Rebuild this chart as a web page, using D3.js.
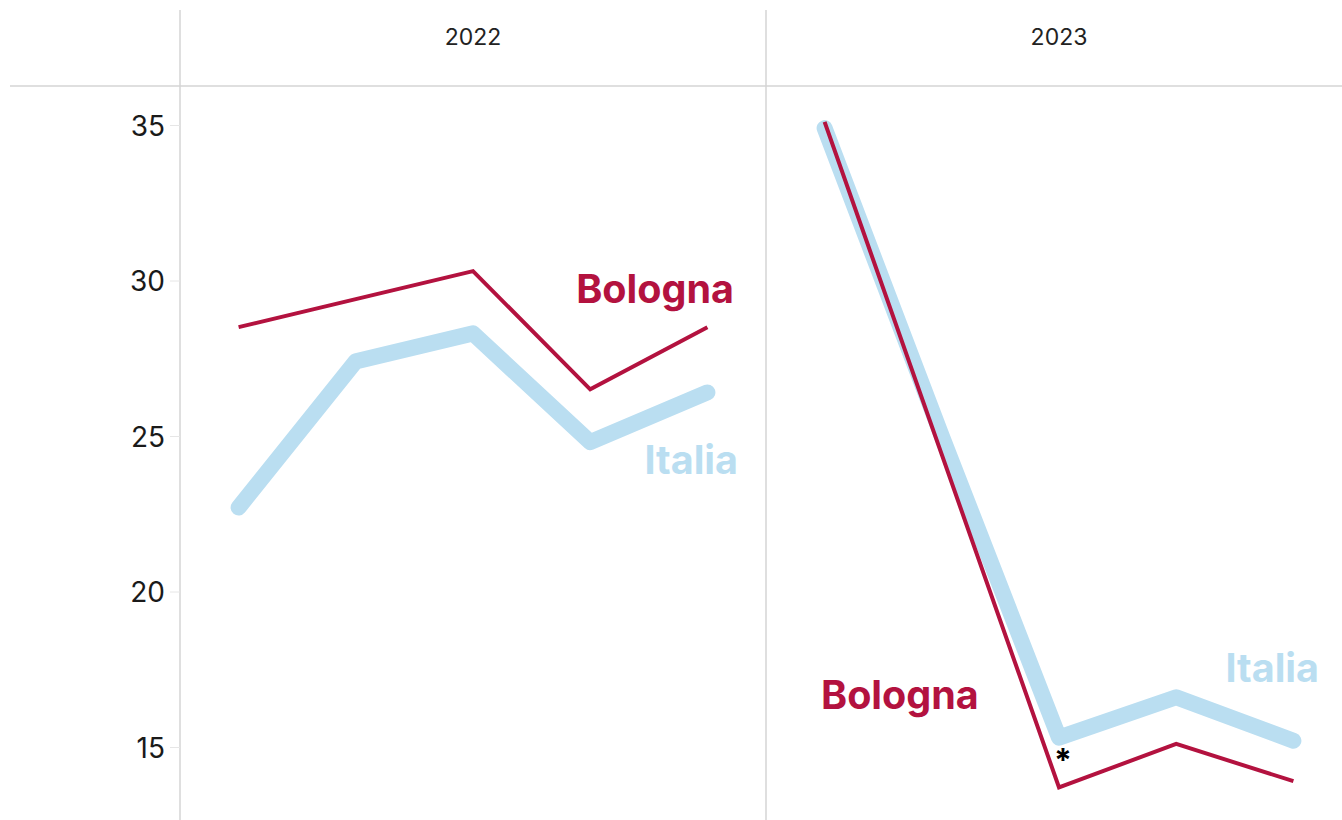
<!DOCTYPE html>
<html>
<head>
<meta charset="utf-8">
<script src="https://cdn.jsdelivr.net/npm/d3@7"></script>
<style>
  body { margin: 0; background: #fff; }
  svg { display: block; font-family: Inter, Roboto, "Liberation Sans", sans-serif; }
  .grid { stroke: #d4d4d4; stroke-width: 1.5; }
  .year { font-size: 23px; fill: #222; }
  .y-axis text { font-size: 28px; fill: #1a1a1a; font-family: Inter, sans-serif; }
  .y-axis line { stroke: #e6e6e6; }
  .label { font-size: 39.5px; font-weight: 700; }
</style>
</head>
<body>
<svg id="chart" width="1342" height="820"></svg>
<script>
// Valori (5 rilevazioni per anno)
const years = ["2022", "2023"];
const periods = ["1", "2", "3", "4", "5"];
const bologna2022 = [28.5, 29.4, 30.3, 26.5, 28.5];
const bologna2023 = [35.1, 24.4, 13.7, 15.1, 13.9];
const italia2022 = [22.7, 27.4, 28.3, 24.8, 26.4];
const italia2023 = [34.9, 25.0, 15.3, 16.6, 15.2];
const yTicks = [15, 20, 25, 30, 35];

const colors = { bologna: "#b3123f", italia: "#badef1" };

const svg = d3.select("#chart");

const y = d3.scaleLinear().domain([15, 35]).range([747, 125]);
const panel = d3.scaleBand().domain(years).range([180, 1352]);
const x = d3.scalePoint().domain(periods).range([0, panel.bandwidth()]).padding(0.5);

// Griglia: separatori verticali e linea sotto le intestazioni
svg.append("line").attr("class", "grid")
    .attr("x1", 10).attr("x2", 1342).attr("y1", 86).attr("y2", 86);
years.forEach(function(year) {
    svg.append("line").attr("class", "grid")
        .attr("x1", panel(year)).attr("x2", panel(year))
        .attr("y1", 10).attr("y2", 820);
    svg.append("text").attr("class", "year")
        .attr("x", panel(year) + panel.bandwidth() / 2)
        .attr("y", 45)
        .attr("text-anchor", "middle")
        .text(year);
});

// Asse y
const yAxis = svg.append("g")
    .attr("class", "y-axis")
    .attr("transform", "translate(180,0)")
    .call(d3.axisLeft(y).tickValues(yTicks).tickSize(10).tickPadding(5));
yAxis.select(".domain").remove();
yAxis.selectAll("text").attr("dy", "0.36em");

const series = [
    { key: "italia", values: { "2022": italia2022, "2023": italia2023 }, width: 16, cap: "round" },
    { key: "bologna", values: { "2022": bologna2022, "2023": bologna2023 }, width: 4, cap: "butt" }
];

const line = d3.line()
    .x(function(d) { return x(d.period); })
    .y(function(d) { return y(d.value); });

years.forEach(function(year) {
    const g = svg.append("g").attr("transform", "translate(" + panel(year) + ",0)");
    series.forEach(function(s) {
        const points = periods.map(function(p, i) {
            return { period: p, value: s.values[year][i] };
        });
        g.append("path")
            .datum(points)
            .attr("fill", "none")
            .attr("stroke", colors[s.key])
            .attr("stroke-width", s.width)
            .attr("stroke-linecap", s.cap)
            .attr("stroke-linejoin", s.key === "italia" ? "round" : "miter")
            .attr("d", line);
    });
});

// Etichette delle serie
const labels = [
    { text: "Bologna", key: "bologna", x: 734, y: 303, anchor: "end" },
    { text: "Italia", key: "italia", x: 738, y: 474, anchor: "end" },
    { text: "Bologna", key: "bologna", x: 821, y: 709, anchor: "start" },
    { text: "Italia", key: "italia", x: 1319, y: 682, anchor: "end" }
];
svg.selectAll(".label")
    .data(labels)
    .enter()
    .append("text")
    .attr("class", "label")
    .attr("x", function(d) { return d.x; })
    .attr("y", function(d) { return d.y; })
    .attr("text-anchor", function(d) { return d.anchor; })
    .attr("fill", function(d) { return colors[d.key]; })
    .text(function(d) { return d.text; });

// Asterisco sul punto di minimo 2023
svg.append("text")
    .attr("x", panel("2023") + x("3") + 4)
    .attr("y", 772)
    .attr("text-anchor", "middle")
    .attr("font-size", 32)
    .attr("font-weight", 700)
    .attr("fill", "#000")
    .text("*");
</script>
</body>
</html>
